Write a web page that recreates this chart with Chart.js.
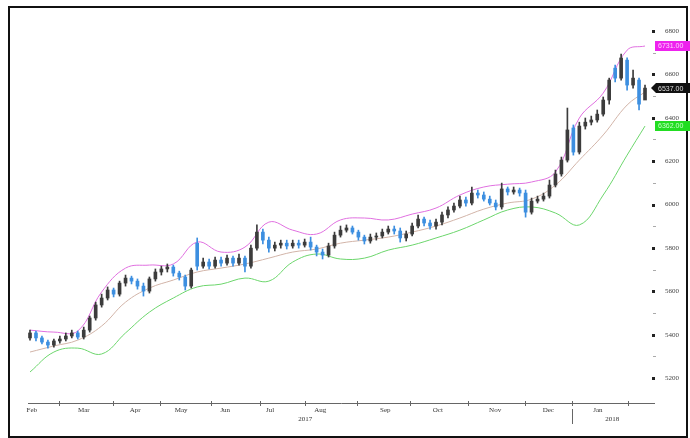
<!DOCTYPE html>
<html>
<head>
<meta charset="utf-8">
<script src="https://cdn.jsdelivr.net/npm/chart.js@4.4.1/dist/chart.umd.min.js"></script>
<style>
  body { margin: 0; background: #fff; }
  #wrap { position: relative; width: 690px; height: 438px; }
  #frame { position: absolute; left: 8px; top: 6px; width: 676px; height: 428px; border: 2px solid #111; }
  #chart { position: absolute; left: 0; top: 0; }
</style>
</head>
<body>
<div id="wrap"><div id="frame"></div><canvas id="chart" width="690" height="438"></canvas></div>
<script>
// candles (one every ~2 sessions)
const openP = [5385,5408,5385,5366,5352,5371,5380,5394,5408,5389,
  5421,5477,5537,5569,5606,5587,5638,5661,5647,5624,
  5601,5657,5689,5703,5712,5684,5666,5624,5822,5716,
  5735,5716,5744,5730,5753,5730,5753,5716,5799,5873,
  5836,5799,5813,5822,5809,5822,5813,5827,5804,5781,
  5767,5809,5859,5882,5892,5873,5850,5832,5850,5855,
  5873,5887,5878,5846,5864,5901,5933,5915,5901,5919,
  5952,5975,5993,6021,6007,6053,6044,6025,6007,5989,
  6072,6058,6067,6053,5965,6016,6025,6039,6090,6141,
  6205,6353,6242,6362,6380,6390,6417,6482,6629,6583,
  6666,6551,6574,6482];
const closeP = [5408,5385,5366,5352,5371,5380,5394,5408,5389,5421,
  5477,5537,5569,5606,5587,5638,5661,5647,5624,5601,
  5657,5689,5703,5712,5684,5666,5624,5698,5716,5735,
  5716,5744,5730,5753,5730,5753,5716,5799,5873,5836,
  5799,5813,5822,5809,5822,5813,5827,5804,5781,5767,
  5809,5859,5882,5892,5873,5850,5832,5850,5855,5873,
  5887,5878,5846,5864,5901,5933,5915,5901,5919,5952,
  5975,5993,6021,6007,6053,6044,6025,6007,5989,6072,
  6058,6067,6053,5965,6016,6025,6039,6090,6141,6205,
  6344,6242,6362,6380,6390,6417,6482,6574,6583,6676,
  6551,6583,6463,6537];
const highP = [5421,5417,5394,5375,5380,5394,5408,5421,5417,5435,
  5486,5550,5587,5620,5615,5647,5675,5670,5657,5638,
  5666,5703,5716,5726,5721,5693,5675,5707,5846,5753,
  5749,5758,5758,5767,5763,5772,5763,5813,5906,5887,
  5850,5827,5836,5836,5836,5836,5841,5850,5813,5795,
  5822,5873,5901,5906,5901,5882,5859,5864,5869,5887,
  5901,5901,5892,5878,5915,5952,5942,5929,5933,5965,
  5989,6007,6039,6035,6081,6067,6058,6039,6021,6099,
  6081,6081,6076,6067,6030,6039,6053,6113,6159,6219,
  6445,6367,6380,6399,6408,6436,6496,6583,6643,6694,
  6676,6620,6583,6551];
const lowP = [5375,5371,5357,5338,5343,5361,5371,5385,5380,5380,
  5412,5467,5527,5560,5574,5578,5624,5634,5610,5578,
  5592,5647,5675,5689,5670,5652,5606,5615,5698,5707,
  5703,5707,5716,5721,5716,5721,5689,5707,5790,5818,
  5781,5786,5799,5795,5799,5799,5804,5790,5763,5749,
  5758,5799,5850,5873,5864,5836,5818,5822,5836,5846,
  5864,5864,5827,5832,5855,5892,5901,5887,5887,5906,
  5938,5965,5984,5993,5998,6030,6016,5998,5975,5979,
  6044,6048,6039,5942,5956,6007,6016,6030,6081,6131,
  6196,6228,6233,6348,6367,6380,6408,6463,6565,6574,
  6528,6537,6436,6514];

// bollinger bands
const bandX = [0,4,8,12,16,20,24,28,32,36,40,44,48,52,56,60,64,68,72,76,80,84,88,92,96,100,103];
const upperB = [5421,5412,5417,5597,5707,5721,5726,5827,5781,5804,5919,5882,5864,5929,5938,5929,5956,5984,6044,6081,6094,6104,6150,6399,6514,6712,6731];
const middleB = [5320,5348,5375,5440,5550,5615,5652,5689,5707,5726,5753,5781,5795,5822,5836,5850,5873,5901,5938,5979,6007,6025,6090,6205,6321,6459,6519];
const lowerB = [5228,5320,5338,5311,5408,5504,5569,5620,5633,5661,5647,5735,5772,5749,5753,5790,5813,5846,5882,5929,5975,5989,5961,5906,6044,6228,6362];

// axes
const monthBounds = [4.9,13.9,21.8,30.3,38.5,46.1,54.8,63.7,73.4,82.9,90.8,100.2];
const monthNames = ['Feb','Mar','Apr','May','Jun','Jul','Aug','Sep','Oct','Nov','Dec','Jan'];
const monthPos = [0.3,9.0,17.6,25.3,32.7,40.2,48.6,59.5,68.3,77.9,86.8,95.1];
const yearNames = ['2017','2018'];
const yearPos = [46.1,97.5];
const yearSplit = 90.8;
const yTicks = [5200,5400,5600,5800,6000,6200,6400,6600,6800];
const yMinor = [5300,5500,5700,5900,6100,6300,6500,6700];

const BLUE = '#3d8fe0';
const DARK = '#3c3c3c';
function candleColor(i) { return closeP[i] < openP[i] ? BLUE : DARK; }

const wicks = lowP.map((l, i) => ({ x: i, y: [l, highP[i]] }));
const bodies = openP.map((o, i) => ({ x: i, y: [o, closeP[i]] }));
const line = (arr) => arr.map((v, i) => ({ x: bandX[i], y: v }));

const extras = {
  id: 'extras',
  afterDraw(chart) {
    const ctx = chart.ctx, xs = chart.scales.x, ys = chart.scales.y;
    const bottom = chart.chartArea.bottom;
    ctx.save();
    // x axis line and crosses
    ctx.strokeStyle = '#666';
    ctx.lineWidth = 1;
    ctx.beginPath();
    ctx.moveTo(28, bottom + 0.5);
    ctx.lineTo(655, bottom + 0.5);
    monthBounds.forEach(v => {
      const px = Math.round(xs.getPixelForValue(v)) + 0.5;
      ctx.moveTo(px, bottom - 2);
      ctx.lineTo(px, bottom + 3);
    });
    ctx.stroke();
    const sx = Math.round(xs.getPixelForValue(yearSplit)) + 0.5;
    ctx.beginPath();
    ctx.moveTo(sx, bottom + 6);
    ctx.lineTo(sx, bottom + 21);
    ctx.stroke();
    // x labels
    ctx.fillStyle = '#333';
    ctx.font = '7px "Liberation Serif"';
    ctx.textAlign = 'center';
    ctx.textBaseline = 'middle';
    monthNames.forEach((m, i) => ctx.fillText(m, xs.getPixelForValue(monthPos[i]), bottom + 7));
    yearNames.forEach((t, i) => ctx.fillText(t, xs.getPixelForValue(yearPos[i]), bottom + 16));
    // y markers
    yTicks.forEach(v => {
      const py = Math.round(ys.getPixelForValue(v));
      ctx.fillStyle = '#222';
      ctx.fillRect(652, py - 1, 3, 3);
    });
    yMinor.forEach(v => {
      const py = Math.round(ys.getPixelForValue(v));
      ctx.fillStyle = '#aaa';
      ctx.fillRect(653, py, 3, 1);
    });
    // last value badges
    const last = closeP.length - 1, lb = bandX.length - 1;
    const badge = (val, bg, fg, arrow) => {
      const py = ys.getPixelForValue(val);
      ctx.fillStyle = bg;
      ctx.beginPath();
      if (arrow) {
        ctx.moveTo(651, py);
        ctx.lineTo(656, py - 5);
      } else {
        ctx.moveTo(655, py - 5);
      }
      ctx.lineTo(690, py - 5);
      ctx.lineTo(690, py + 5);
      ctx.lineTo(656, py + 5);
      if (!arrow) ctx.lineTo(655, py + 5);
      ctx.closePath();
      ctx.fill();
      ctx.fillStyle = fg;
      ctx.font = '7px "Liberation Sans"';
      ctx.textAlign = 'left';
      ctx.fillText(val.toFixed(2), 658, py + 0.5);
    };
    badge(upperB[lb], '#ee22ee', '#ffd0ff', false);
    badge(closeP[last], '#111', '#ddd', true);
    badge(lowerB[lb], '#22dd22', '#c8ffc8', false);
    ctx.restore();
  }
};

new Chart(document.getElementById('chart'), {
  type: 'bar',
  data: {
    datasets: [
      { type: 'line', data: line(upperB), borderColor: '#e070e0', borderWidth: 1, pointRadius: 0, tension: 0.4, order: 3 },
      { type: 'line', data: line(middleB), borderColor: '#d2b4a8', borderWidth: 1, pointRadius: 0, tension: 0.4, order: 3 },
      { type: 'line', data: line(lowerB), borderColor: '#6cd66c', borderWidth: 1, pointRadius: 0, tension: 0.4, order: 3 },
      { data: wicks, backgroundColor: ctx => candleColor(ctx.dataIndex), barThickness: 1, grouped: false, order: 2 },
      { data: bodies, backgroundColor: ctx => candleColor(ctx.dataIndex), barThickness: 3, grouped: false, order: 1 }
    ]
  },
  options: {
    responsive: false,
    animation: false,
    layout: { padding: { left: 28, top: 20, right: 0, bottom: 0 } },
    plugins: { legend: { display: false }, tooltip: { enabled: false } },
    scales: {
      x: {
        type: 'linear', min: -0.335, max: 103.835, offset: false,
        grid: { display: false }, border: { display: false },
        ticks: { display: false },
        afterFit: s => { s.height = 35; }
      },
      y: {
        position: 'right', min: 5085, max: 6851,
        grid: { display: false }, border: { display: false },
        afterBuildTicks: s => { s.ticks = yTicks.map(v => ({ value: v })); },
        ticks: { padding: 7, color: '#444', font: { family: 'Liberation Serif', size: 7 }, callback: v => String(v) },
        afterFit: s => { s.width = 40; }
      }
    }
  },
  plugins: [extras]
});
</script>
</body>
</html>
